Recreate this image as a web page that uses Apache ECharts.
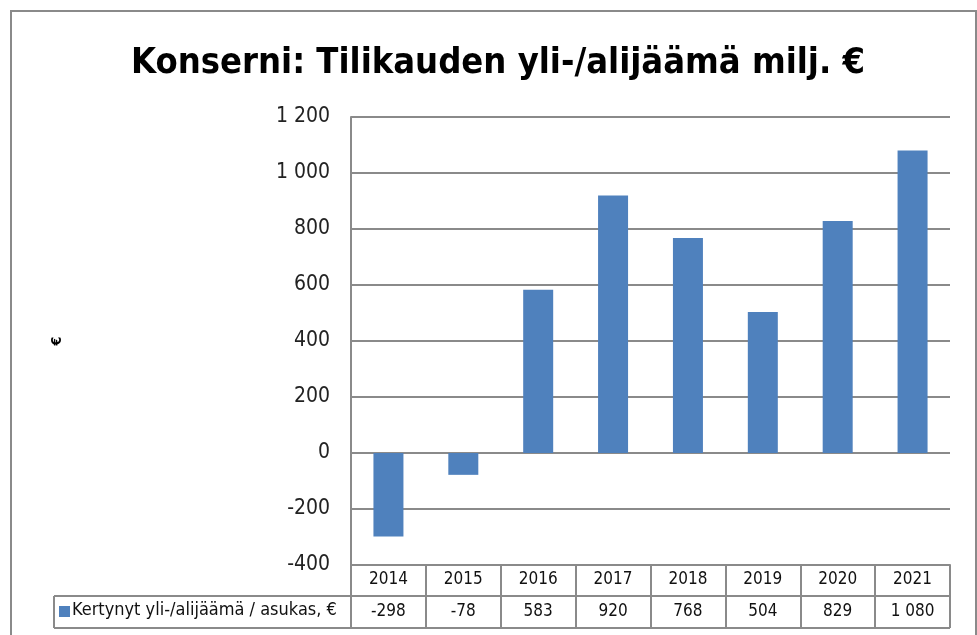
<!DOCTYPE html>
<html>
<head>
<meta charset="utf-8">
<script src="https://cdn.jsdelivr.net/npm/echarts@6/dist/echarts.min.js"></script>
<style>
  html, body { margin: 0; padding: 0; background: #fff; }
  #chart { width: 977px; height: 635px; }
</style>
</head>
<body>
<div id="chart"></div>
<script>
// vuodet ja arvot
var years = ['2014', '2015', '2016', '2017', '2018', '2019', '2020', '2021'];
var values = [-298, -78, 583, 920, 768, 504, 829, 1080];
var seriesName = 'Kertynyt yli-/alijäämä / asukas, €';
var titleText = 'Konserni: Tilikauden yli-/alijäämä milj. €';
var yMin = -400, yMax = 1200, yStep = 200;

var FONT = '"Liberation Sans Narrow", "DejaVu Sans Condensed", sans-serif';
var lineCol = '#8a8a8a';

function fmt(v) {
  var s = String(Math.abs(v)).replace(/\B(?=(\d{3})+(?!\d))/g, ' ');
  return (v < 0 ? '-' : '') + s;
}

var chart = echarts.init(document.getElementById('chart'));
chart.setOption({
  animation: false,
  textStyle: { fontFamily: FONT },
  title: {
    text: titleText,
    left: 493,
    textAlign: 'center',
    top: 41,
    textStyle: { fontSize: 36, fontWeight: 'bold', color: '#000', fontFamily: FONT }
  },
  grid: { left: 351, right: 27, top: 117, bottom: 70 },
  xAxis: [
    {
      type: 'category',
      data: years,
      position: 'bottom',
      axisLine: { onZero: false, lineStyle: { color: lineCol, width: 2 } },
      axisTick: { show: true, length: 63, lineStyle: { color: lineCol, width: 2 } },
      axisLabel: { margin: 6, fontSize: 17, color: '#111', fontFamily: FONT }
    },
    {
      type: 'category',
      data: years,
      position: 'bottom',
      offset: 32,
      axisLine: { show: false },
      axisTick: { show: false },
      axisLabel: {
        margin: 6, fontSize: 17, color: '#111', fontFamily: FONT,
        formatter: function (v, i) { return fmt(values[i]); }
      }
    }
  ],
  yAxis: {
    type: 'value',
    min: yMin,
    max: yMax,
    interval: yStep,
    name: '€',
    nameLocation: 'middle',
    nameRotate: 90,
    nameGap: 287,
    nameTextStyle: { fontSize: 14, fontWeight: 'bold', color: '#000' },
    axisLine: { show: true, lineStyle: { color: lineCol, width: 2 } },
    axisTick: { show: false },
    axisLabel: { margin: 21, fontSize: 21, color: '#222', fontFamily: FONT, formatter: fmt },
    splitLine: { lineStyle: { color: lineCol, width: 2 } }
  },
  series: [{
    name: seriesName,
    type: 'bar',
    data: values,
    barWidth: 30,
    itemStyle: { color: '#4f81bd' }
  }],
  graphic: [
    // ulkoreunus
    { type: 'rect', shape: { x: 11, y: 11, width: 965, height: 640 },
      style: { fill: 'none', stroke: '#8a8a8a', lineWidth: 2 }, silent: true, z: -1 },
    // taulukon rivit
    { type: 'line', shape: { x1: 54, y1: 596, x2: 950, y2: 596 }, style: { stroke: lineCol, lineWidth: 2 } },
    { type: 'line', shape: { x1: 54, y1: 628, x2: 950, y2: 628 }, style: { stroke: lineCol, lineWidth: 2 } },
    { type: 'line', shape: { x1: 54, y1: 596, x2: 54, y2: 628 }, style: { stroke: lineCol, lineWidth: 2 } },
    { type: 'rect', shape: { x: 59, y: 606, width: 11, height: 11 }, style: { fill: '#4f81bd' } },
    { type: 'text', left: 72, top: 601,
      style: { text: seriesName, fontSize: 18, fill: '#111', fontFamily: FONT } }
  ]
});
</script>
</body>
</html>
